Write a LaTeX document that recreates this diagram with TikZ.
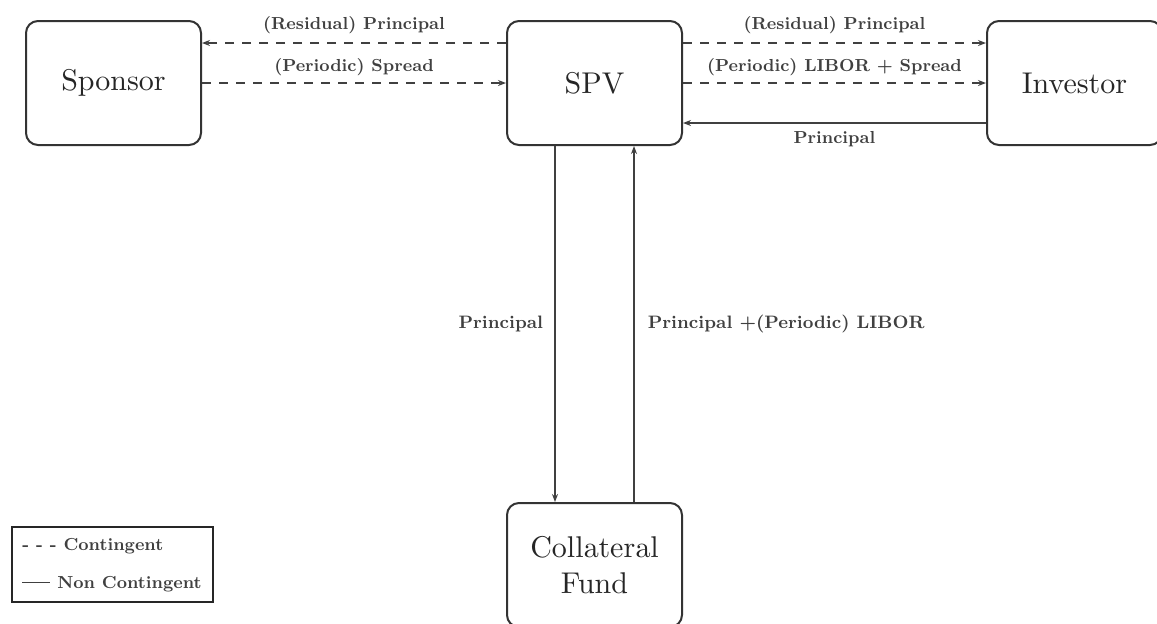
\documentclass[tikz,border=0pt]{standalone}
\usetikzlibrary{arrows.meta}
\font\boxfont=cmr10 at 15pt
\newcommand\boxfontsel{\boxfont\baselineskip=18pt\relax}
\begin{document}
\begin{tikzpicture}[x=0.5pt,y=-0.5pt,
  box/.style={draw=black!80, line width=1pt, rounded corners=6pt, minimum width=87.5pt, minimum height=62pt, inner sep=0pt, align=center, font=\boxfontsel, text=black!85},
  flow/.style={draw=black!75, line width=0.9pt, -{Stealth[length=4pt,width=3pt]}},
  cont/.style={flow, dash pattern=on 4.5pt off 4pt},
  lbl/.style={font=\fontsize{9}{11}\selectfont\bfseries, text=black!75, inner sep=0pt},
  toplbl/.style={lbl, font=\fontsize{8.7}{11}\selectfont\bfseries},
  lgd/.style={font=\fontsize{8.7}{10}\selectfont\bfseries, text=black!75, inner sep=0pt, anchor=base west}]
\useasboundingbox (0,0) rectangle (1157,623);
\clip (0,0) rectangle (1157,623);
\node[box] (sponsor) at (113.5,83) {Sponsor};
\node[box] (spv) at (594.5,83) {SPV};
\node[box] (investor) at (1074.5,83) {Investor};
\node[box] (fund) at (594.5,565) {Collateral\\Fund};

\draw[cont] ([yshift=20pt]spv.west) -- node[toplbl, anchor=base, yshift=7pt]{(Residual) Principal} ([yshift=20pt]sponsor.east);
\draw[cont] (sponsor.east) -- node[toplbl, anchor=base, yshift=6pt]{(Periodic) Spread} (spv.west);
\draw[cont] ([yshift=20pt]spv.east) -- node[toplbl, anchor=base, yshift=7pt]{(Residual) Principal} ([yshift=20pt]investor.west);
\draw[cont] (spv.east) -- node[toplbl, anchor=base, yshift=6pt]{(Periodic) LIBOR + Spread} (investor.west);
\draw[flow] ([yshift=-20pt]investor.west) -- node[toplbl, anchor=base, yshift=-10pt]{Principal} ([yshift=-20pt]spv.east);
\draw[flow] ([xshift=-19.75pt]spv.south) -- node[lbl, anchor=base east, xshift=-5.5pt, yshift=-2pt]{Principal} ([xshift=-19.75pt]fund.north);
\draw[flow] ([xshift=19.75pt]fund.north) -- node[lbl, anchor=base west, xshift=6.5pt, yshift=-2pt]{Principal +(Periodic) LIBOR} ([xshift=19.75pt]spv.south);

\node[draw=black!85, line width=1.2pt, minimum width=100.5pt, minimum height=37.5pt, inner sep=0pt] (legend) at (112.5,564.5) {};
\node[lgd] (lg1) at (22,550) {- - - Contingent};
\node[lgd] (lg2) at (22,588) {\rule[0.6ex]{14pt}{0.5pt} Non Contingent};
\end{tikzpicture}
\end{document}
